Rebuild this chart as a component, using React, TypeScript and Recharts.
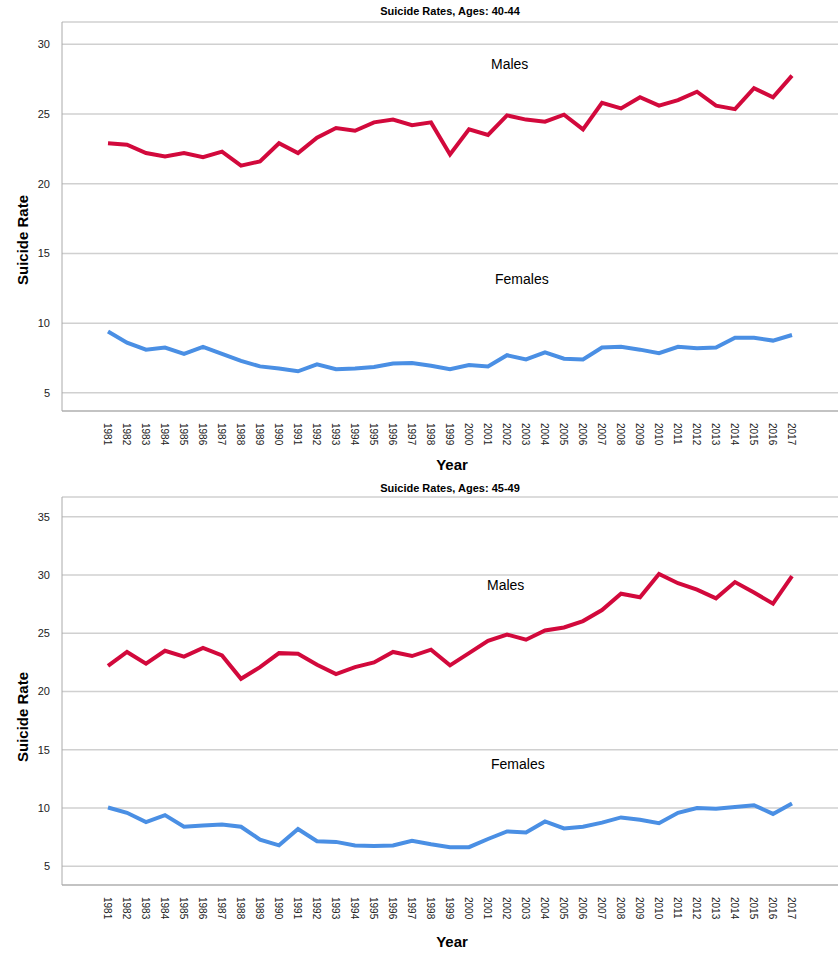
import { LineChart, Line, XAxis, YAxis, CartesianGrid } from 'recharts';

const years = Array.from({ length: 37 }, (_, i) => String(1981 + i));

const males4044 = [22.9, 22.8, 22.2, 21.95, 22.2, 21.9, 22.3, 21.3, 21.6, 22.9, 22.2, 23.3, 24.0, 23.8, 24.4, 24.6, 24.2, 24.4, 22.1, 23.9, 23.5, 24.9, 24.6, 24.45, 24.95, 23.9, 25.8, 25.4, 26.2, 25.6, 26.0, 26.6, 25.6, 25.35, 26.85, 26.2, 27.75];
const females4044 = [9.4, 8.6, 8.1, 8.25, 7.8, 8.3, 7.8, 7.3, 6.9, 6.75, 6.55, 7.05, 6.7, 6.75, 6.85, 7.1, 7.15, 6.95, 6.7, 7.0, 6.9, 7.7, 7.4, 7.9, 7.45, 7.4, 8.25, 8.3, 8.1, 7.85, 8.3, 8.2, 8.25, 8.95, 8.95, 8.75, 9.15];
const males4549 = [22.2, 23.4, 22.4, 23.5, 23.0, 23.75, 23.1, 21.1, 22.1, 23.3, 23.25, 22.3, 21.5, 22.1, 22.5, 23.4, 23.05, 23.6, 22.25, 23.3, 24.35, 24.9, 24.45, 25.25, 25.5, 26.05, 27.0, 28.4, 28.1, 30.1, 29.3, 28.75, 28.0, 29.4, 28.5, 27.55, 29.9];
const females4549 = [10.05, 9.6, 8.8, 9.4, 8.4, 8.5, 8.6, 8.4, 7.3, 6.8, 8.2, 7.15, 7.1, 6.8, 6.75, 6.8, 7.2, 6.9, 6.65, 6.65, 7.35, 8.0, 7.9, 8.85, 8.25, 8.4, 8.75, 9.2, 9.0, 8.7, 9.6, 10.0, 9.95, 10.1, 10.25, 9.5, 10.4];

const ticks1 = [5, 10, 15, 20, 25, 30];
const ticks2 = [5, 10, 15, 20, 25, 30, 35];

const build = (m: number[], f: number[]) => years.map((y, i) => ({ year: y, males: m[i], females: f[i] }));

const font = 'Liberation Sans, Arial, sans-serif';

const YearTick = ({ x, y, payload }: any) => (
  <text x={x} y={y + 4} transform={`rotate(90 ${x} ${y + 4})`} dy={4} fontSize={10} fill="#222" fontFamily={font}>
    {payload.value}
  </text>
);

const Panel = ({ top, title, data, ticks, domain, marginTop, axisH, malesPos, femalesPos }: any) => (
  <div style={{ position: 'absolute', left: 0, top, width: 838, height: 477 }}>
    <LineChart width={838} height={477} data={data} margin={{ top: marginTop, right: 0, bottom: 0, left: 0 }}>
      <CartesianGrid vertical={false} stroke="#d0d0d0" strokeWidth={1.5} />
      <XAxis dataKey="year" height={axisH} padding={{ left: 46, right: 46 }} tick={<YearTick />} tickLine={false} interval={0} stroke="#aaa" />
      <YAxis width={62} domain={domain} ticks={ticks} allowDataOverflow tickLine={false} stroke="#aaa" tick={{ fontSize: 11, fill: '#222', fontFamily: font }} tickMargin={6} />
      <Line dataKey="males" stroke="#d2093c" strokeWidth={4} dot={false} isAnimationActive={false} />
      <Line dataKey="females" stroke="#4a8fe4" strokeWidth={4} dot={false} isAnimationActive={false} />
    </LineChart>
    <div style={{ position: 'absolute', top: 5, left: 0, width: 900, textAlign: 'center', fontFamily: font, fontWeight: 'bold', fontSize: 11 }}>{title}</div>
    <div style={{ position: 'absolute', left: 12, top: 240, transform: 'translate(-50%,-50%) rotate(-90deg)', transformOrigin: 'center', marginLeft: 10, whiteSpace: 'nowrap', fontFamily: font, fontWeight: 'bold', fontSize: 15 }}>Suicide Rate</div>
    <div style={{ position: 'absolute', left: 0, width: 904, top: 456, textAlign: 'center', fontFamily: font, fontWeight: 'bold', fontSize: 15 }}>Year</div>
    <div style={{ position: 'absolute', left: malesPos[0], top: malesPos[1], fontFamily: font, fontSize: 14 }}>Males</div>
    <div style={{ position: 'absolute', left: femalesPos[0], top: femalesPos[1], fontFamily: font, fontSize: 14 }}>Females</div>
  </div>
);

export default function App() {
  return (
    <div style={{ position: 'absolute', left: 0, top: 0, width: 838, height: 954, background: '#fff' }}>
      <Panel top={0} title="Suicide Rates, Ages: 40-44" data={build(males4044, females4044)} ticks={ticks1} domain={[3.7, 31.6]} marginTop={22} axisH={66} malesPos={[491, 56]} femalesPos={[495, 271]} />
      <Panel top={477} title="Suicide Rates, Ages: 45-49" data={build(males4549, females4549)} ticks={ticks2} domain={[3.4, 36.7]} marginTop={20} axisH={69} malesPos={[487, 100]} femalesPos={[491, 279]} />
    </div>
  );
}
